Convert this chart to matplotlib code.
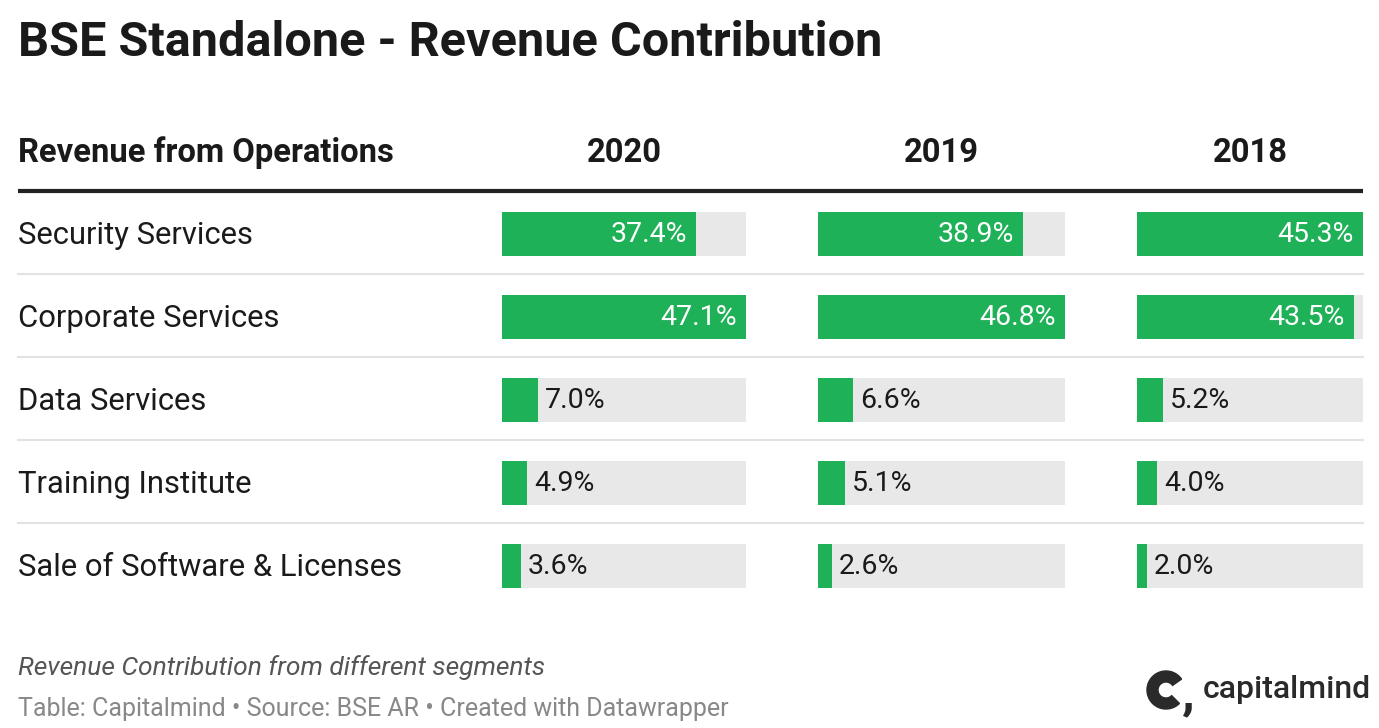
import numpy as np
import matplotlib
matplotlib.use("Agg")
from matplotlib import pyplot as plt
from matplotlib.patches import Wedge

# table data
segments = ["Security Services", "Corporate Services", "Data Services",
            "Training Institute", "Sale of Software & Licenses"]
years = ["2020", "2019", "2018"]
share_2020 = [37.4, 47.1, 7.0, 4.9, 3.6]
share_2019 = [38.9, 46.8, 6.6, 5.1, 2.6]
share_2018 = [45.3, 43.5, 5.2, 4.0, 2.0]

title = "BSE Standalone - Revenue Contribution"
first_col = "Revenue from Operations"
note = "Revenue Contribution from different segments"
source = "Table: Capitalmind \u2022 Source: BSE AR \u2022 Created with Datawrapper"

GREEN = "#1fb158"
BG = "#e8e8e8"
DARK = "#1a1a1a"

plt.rcParams['font.family'] = ['Roboto', 'DejaVu Sans']

W, H = 1379, 728
fig = plt.figure(figsize=(W / 100, H / 100), dpi=100)
ax = fig.add_axes([0, 0, 1, 1])
ax.set_xlim(0, W)
ax.set_ylim(H, 0)
ax.axis("off")

# layout in pixels
col_left = [502, 818, 1137]
col_width = [244, 247, 226]
row_top = 191
row_h = 83
bar_h = 44

ax.text(18, 43, title, fontsize=35, fontweight="bold", color=DARK, va="center")
ax.text(18, 153, first_col, fontsize=23.6, fontweight="bold", color=DARK, va="center")
for x0, w, yr in zip(col_left, col_width, years):
    ax.text(x0 + w / 2, 153, yr, fontsize=23.6, fontweight="bold", color=DARK,
            va="center", ha="center")
ax.plot([18, 1363], [191, 191], color="#222222", lw=3, solid_capstyle="butt")

cols = [share_2020, share_2019, share_2018]
for i, seg in enumerate(segments):
    yc = row_top + row_h * i + row_h / 2 + 1
    ax.text(18, yc + 2, seg, fontsize=22.3, color=DARK, va="center")
    if i < len(segments) - 1:
        ax.plot([18, 1363], [row_top + row_h * (i + 1)] * 2, color="#e3e3e3", lw=1.5)
    for x0, w, vals in zip(col_left, col_width, cols):
        vmax = max(vals)
        bw = vals[i] / vmax * w
        ax.barh(yc, w, left=x0, height=bar_h, color=BG)
        ax.barh(yc, bw, left=x0, height=bar_h, color=GREEN)
        lab = f"{vals[i]:.1f}%"
        if bw > 100:
            ax.text(x0 + bw - 9, yc + 1, lab, fontsize=20.5, color="white", ha="right", va="center")
        else:
            ax.text(x0 + bw + 7, yc + 1, lab, fontsize=20.5, color=DARK, ha="left", va="center")

ax.text(18, 668, note, fontsize=19, style="italic", color="#555555", va="center")
ax.text(18, 709, source, fontsize=18, color="#888888", va="center")

# logo
ax.add_patch(Wedge((1166, 690), 19, 45, 325, width=11, color="#2a2a2a"))
ax.text(1182, 695, ",", fontsize=34, fontweight="black", color="#2a2a2a", va="center")
ax.text(1203, 690, "capitalmind", fontsize=23, fontweight="medium", color="#2a2a2a", va="center")

fig.savefig("out.png", dpi=100, facecolor="white")
